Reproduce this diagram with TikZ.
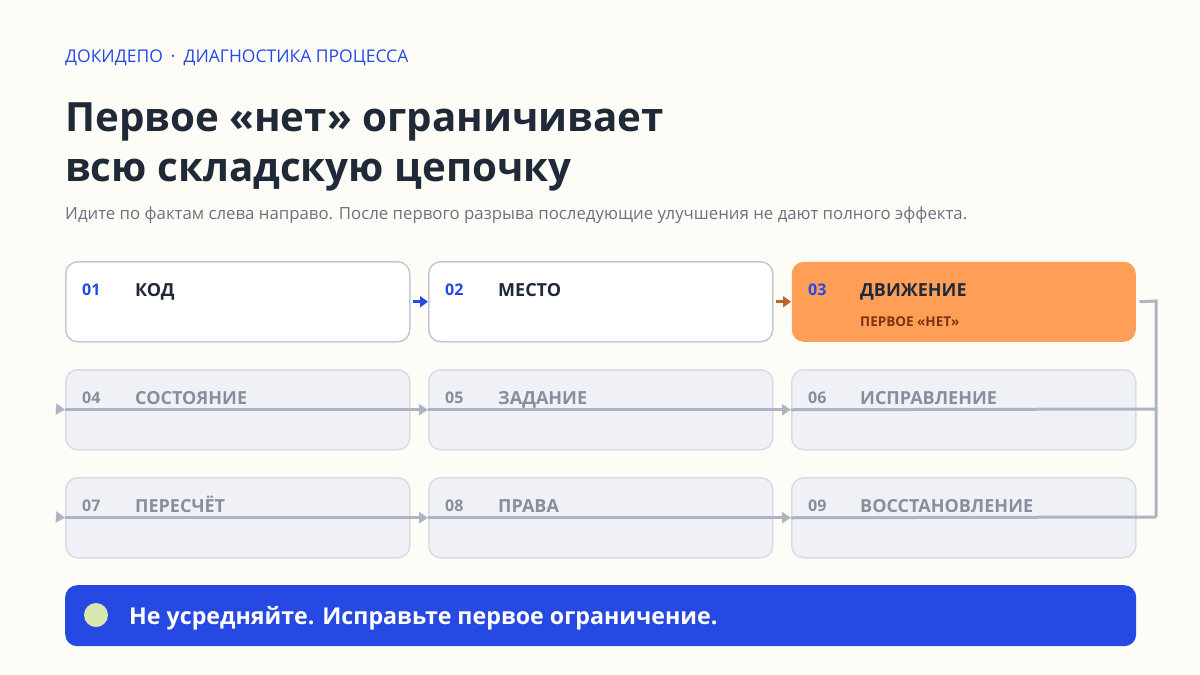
\documentclass[tikz,border=0pt]{standalone}
\usepackage{fontspec}
\setmainfont{Open Sans}
\usetikzlibrary{arrows.meta}
\definecolor{bg}{HTML}{FDFCF7}
\definecolor{ink}{HTML}{1F2937}
\definecolor{accent}{HTML}{2749E3}
\definecolor{muted}{HTML}{6B7280}
\definecolor{edge}{HTML}{C3C8D6}
\definecolor{fadefill}{HTML}{EFF1F6}
\definecolor{fadeedge}{HTML}{D8DCE6}
\definecolor{fadetext}{HTML}{878E9C}
\definecolor{hot}{HTML}{FF9E57}
\definecolor{hotarrow}{HTML}{C0652A}
\definecolor{hottext}{HTML}{7A3410}
\definecolor{wire}{HTML}{AEB4C2}
\definecolor{dot}{HTML}{D9E8B0}
\tikzset{
  card/.style={rectangle, rounded corners=12pt, minimum width=344pt, minimum height=80pt, inner sep=0pt, line width=1.5pt, anchor=north west},
  activecard/.style={card, draw=edge, fill=white},
  fadecard/.style={card, draw=fadeedge, fill=fadefill},
  hotcard/.style={card, draw=none, fill=hot},
  numtxt/.style={anchor=base west, inner sep=0pt, font=\bfseries\fontsize{16}{19}\selectfont},
  labtxt/.style={anchor=base west, inner sep=0pt, font=\bfseries\fontsize{18}{22}\selectfont},
  wirearrow/.style={draw=wire, line width=3pt, -{Triangle[length=9pt,width=11pt]}},
  wireline/.style={draw=wire, line width=3pt},
}
\begin{document}
\begin{tikzpicture}[x=1pt,y=-1pt]
\fill[bg] (0,0) rectangle (1200,675);
\useasboundingbox (0,0) rectangle (1200,675);

\node[anchor=base west, inner sep=0pt, text=accent, font=\fontsize{17.5}{20}\selectfont] (kicker) at (65,62) {ДОКИДЕПО\hspace{8pt}·\hspace{8pt}ДИАГНОСТИКА ПРОЦЕССА};
\node[anchor=base west, inner sep=0pt, text=ink, font=\bfseries\fontsize{40.3}{48}\selectfont] (title1) at (65,131) {Первое «нет» ограничивает};
\node[anchor=base west, inner sep=0pt, text=ink, font=\bfseries\fontsize{40.3}{48}\selectfont] (title2) at (65,181) {всю складскую цепочку};
\node[anchor=base west, inner sep=0pt, text=muted, font=\fontsize{16.8}{20}\selectfont] (sub) at (65,219) {Идите по фактам слева направо. После первого разрыва последующие улучшения не дают полного эффекта.};

% cards
\node[activecard] (b1) at (65,261) {};
\node[activecard] (b2) at (428,261) {};
\node[hotcard] (b3) at (791,261) {};
\node[fadecard] (b4) at (65,369) {};
\node[fadecard] (b5) at (428,369) {};
\node[fadecard] (b6) at (791,369) {};
\node[fadecard] (b7) at (65,477) {};
\node[fadecard] (b8) at (428,477) {};
\node[fadecard] (b9) at (791,477) {};

% connectors
\coordinate (turnTop) at (1156,301);
\coordinate (turnMid) at (1156,409);
\coordinate (turnBot) at (1156,517);
\coordinate (startMid) at (56,409);
\coordinate (startBot) at (56,517);
\draw[wireline] ([xshift=3pt]b3.east) -- (turnTop) -- (turnBot);
\draw[wireline] (turnMid) -- (b6.west);
\draw[wireline] (turnBot) -- (b9.west);
\draw[wirearrow] (startMid) -- (b4.west);
\draw[wirearrow] (b4.west) -- (b5.west);
\draw[wirearrow] (b5.west) -- (b6.west);
\draw[wirearrow] (startBot) -- (b7.west);
\draw[wirearrow] (b7.west) -- (b8.west);
\draw[wirearrow] (b8.west) -- (b9.west);
\draw[draw=accent, line width=3pt, -{Triangle[length=8pt,width=11pt]}] ([xshift=2pt]b1.east) -- (b2.west);
\draw[draw=hotarrow, line width=3pt, -{Triangle[length=8pt,width=11pt]}] ([xshift=2pt]b2.east) -- (b3.west);

% texts
\node[numtxt, text=accent] (n1) at (82,295) {01};
\node[labtxt, text=ink] (l1) at (135,296) {КОД};
\node[numtxt, text=accent] (n2) at (445,295) {02};
\node[labtxt, text=ink] (l2) at (498,296) {МЕСТО};
\node[numtxt, text=accent] (n3) at (808,295) {03};
\node[labtxt, text=ink] (l3) at (860,296) {ДВИЖЕНИЕ};
\node[anchor=base west, inner sep=0pt, text=hottext, font=\bfseries\fontsize{13.5}{16}\selectfont] (t3) at (860,326) {ПЕРВОЕ «НЕТ»};

\node[numtxt, text=fadetext] (n4) at (82,403) {04};
\node[labtxt, text=fadetext] (l4) at (135,404) {СОСТОЯНИЕ};
\node[numtxt, text=fadetext] (n5) at (445,403) {05};
\node[labtxt, text=fadetext] (l5) at (498,404) {ЗАДАНИЕ};
\node[numtxt, text=fadetext] (n6) at (808,403) {06};
\node[labtxt, text=fadetext] (l6) at (860,404) {ИСПРАВЛЕНИЕ};

\node[numtxt, text=fadetext] (n7) at (82,511) {07};
\node[labtxt, text=fadetext] (l7) at (135,512) {ПЕРЕСЧЁТ};
\node[numtxt, text=fadetext] (n8) at (445,511) {08};
\node[labtxt, text=fadetext] (l8) at (498,512) {ПРАВА};
\node[numtxt, text=fadetext] (n9) at (808,511) {09};
\node[labtxt, text=fadetext] (l9) at (860,512) {ВОССТАНОВЛЕНИЕ};

% banner
\node[rectangle, rounded corners=12pt, fill=accent, minimum width=1071pt, minimum height=61pt, anchor=north west, inner sep=0pt] (banner) at (65,585) {};
\fill[dot] (96,615) circle (12pt);
\node[anchor=base west, inner sep=0pt, text=white, font=\bfseries\fontsize{23.2}{27}\selectfont] (btxt) at (129,624) {Не усредняйте. Исправьте первое ограничение.};
\end{tikzpicture}
\end{document}
